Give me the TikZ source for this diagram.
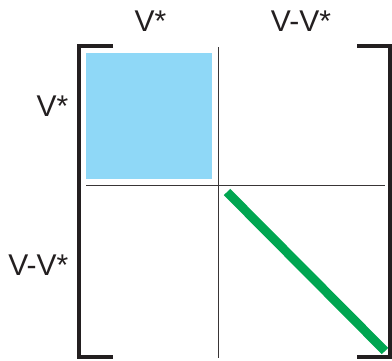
\documentclass[tikz,border=0pt]{standalone}
\usepackage{fontspec}
\setmainfont{Liberation Sans}
\definecolor{blockblue}{HTML}{8FD8F7}
\definecolor{diaggreen}{HTML}{00A651}
\definecolor{inkdark}{HTML}{231F20}
\begin{document}
\begin{tikzpicture}[x=1pt,y=-1pt,
  bracket/.style={draw=inkdark,line width=4pt,line cap=butt,line join=miter},
  divider/.style={draw=inkdark!90,line width=1pt},
  lbl/.style={font=\fontsize{30}{36}\selectfont,inner sep=0pt,text=inkdark}]
\useasboundingbox (0,0) rectangle (392,360);
% labels
\node[lbl,anchor=base] (c1) at (150.5,31) {V*};
\node[lbl,anchor=base] (c2) at (301,31) {V-V*};
\node[lbl,anchor=base east] (r1) at (68.5,116) {V*};
\node[lbl,anchor=base east] (r2) at (68.5,275) {V-V*};
% blue block
\fill[blockblue] (86,53) rectangle (212,179);
% dividers
\coordinate (vt) at (218,47);
\coordinate (vb) at (218,358);
\coordinate (hl) at (86,185);
\coordinate (hr) at (385,185);
\draw[divider] (vt) -- (vb);
\draw[divider] (hl) -- (hr);
% green diagonal
\coordinate (gs) at (227,192);
\coordinate (ge) at (385,351);
\draw[diaggreen,line width=9pt] (gs) -- (ge);
% brackets
\draw[bracket] (113,46) -- (79,46) -- (79,357) -- (113,357);
\draw[bracket] (357,46) -- (390,46) -- (390,357) -- (357,357);
\end{tikzpicture}
\end{document}
